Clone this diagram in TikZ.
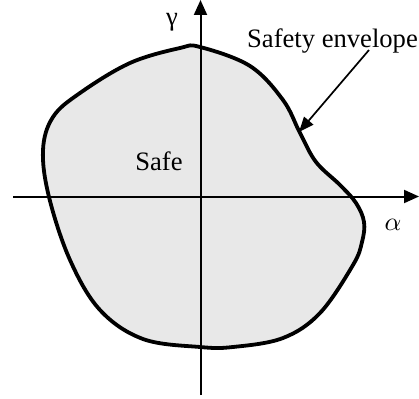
\documentclass[tikz,border=0pt]{standalone}
\usepackage{graphicx}
\usepackage{fontspec}
\setmainfont{Liberation Serif}
\usetikzlibrary{arrows.meta}
\definecolor{safegray}{HTML}{E8E8E8}
\begin{document}
\begin{tikzpicture}[x=1pt,y=-1pt,
  axis/.style={line width=2pt,-{Triangle[length=15pt,width=13pt]}},
  envelope/.style={line width=3.8pt,fill=safegray,line join=round},
  pointer/.style={line width=1.7pt,-{Triangle[length=15pt,width=12pt]}},
  lbl/.style={inner sep=0pt,font=\fontsize{26.6}{32}\selectfont}]
\useasboundingbox (0,0) rectangle (419,398);
\draw[envelope] plot[smooth cycle,tension=0.6] coordinates {
  (200,47) (250,66) (283,100) (300,133) (316,162) (340,185) (356,203)
  (364,222) (362,242) (353,265) (320,313) (283,338) (233,347) (200,347)
  (143,339) (100,310) (70,260) (49,197) (43,150) (53,117) (80,93)
  (130,63) (180,48)};
\coordinate (xs) at (13,196.5);
\coordinate (xe) at (419,196.5);
\coordinate (ys) at (200.5,395);
\coordinate (ye) at (200.5,0);
\draw[axis] (xs) -- (xe);
\draw[axis] (ys) -- (ye);
\node[lbl,anchor=base east] (env) at (418,48) {Safety envelope};
\coordinate (ps) at (369,50);
\coordinate (pe) at (299,132);
\draw[pointer] (ps) -- (pe);
\node[lbl] (gam) at (172,22) {γ};
\node[lbl,anchor=base] (safe) at (159,170) {Safe};
\node[inner sep=0pt] (alp) at (393,225) {\scalebox{2.6}{$\alpha$}};
\end{tikzpicture}
\end{document}
